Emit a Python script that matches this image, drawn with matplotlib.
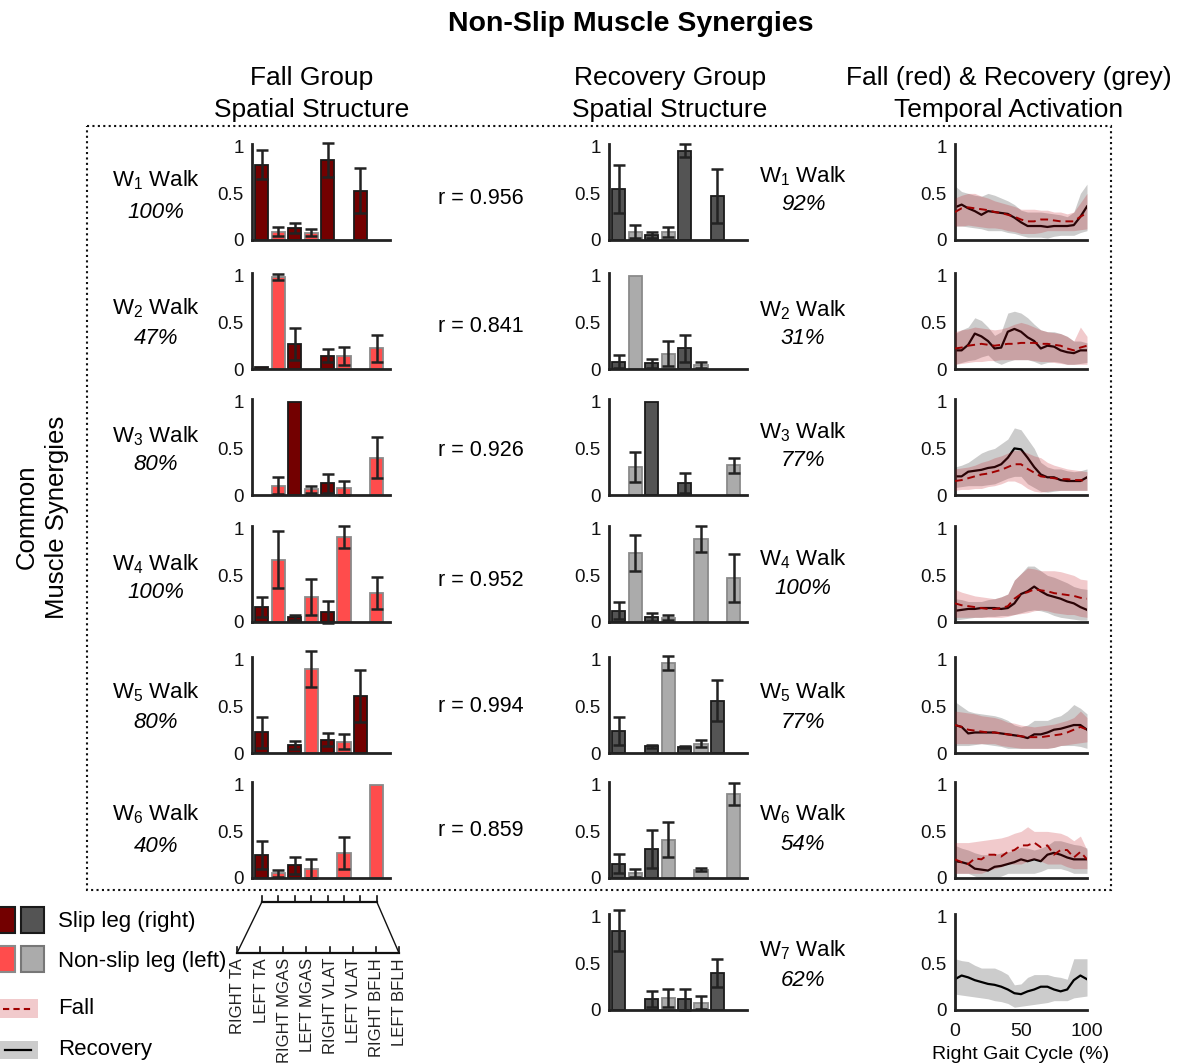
import matplotlib
matplotlib.use('Agg')
import matplotlib.pyplot as plt
import numpy as np
from matplotlib.patches import Rectangle
from matplotlib.lines import Line2D
from matplotlib import transforms

plt.rcParams['font.family'] = ['Liberation Sans', 'DejaVu Sans']
plt.rcParams['mathtext.fontset'] = 'custom'
plt.rcParams['mathtext.rm'] = 'Liberation Sans'
plt.rcParams['mathtext.it'] = 'Liberation Sans:italic'
plt.rcParams['mathtext.default'] = 'regular'

# ---------------- data ----------------
muscles = ['RIGHT TA', 'LEFT TA', 'RIGHT MGAS', 'LEFT MGAS',
           'RIGHT VLAT', 'LEFT VLAT', 'RIGHT BFLH', 'LEFT BFLH']

fall_vals = [
    [0.81, 0.09, 0.125, 0.08, 0.86, 0, 0.53, 0],
    [0.02, 0.99, 0.27, 0, 0.14, 0.14, 0, 0.22],
    [0, 0.10, 1.0, 0.06, 0.125, 0.08, 0, 0.40],
    [0.16, 0.67, 0.05, 0.27, 0.105, 0.91, 0, 0.31],
    [0.22, 0, 0.085, 0.90, 0.14, 0.12, 0.61, 0],
    [0.245, 0.05, 0.135, 0.10, 0, 0.27, 0, 1.0],
]
fall_err = [
    [0.16, 0.05, 0.055, 0.04, 0.18, 0, 0.245, 0],
    [0, 0.03, 0.175, 0, 0.07, 0.10, 0, 0.15],
    [0, 0.09, 0, 0.035, 0.105, 0.075, 0, 0.22],
    [0.11, 0.31, 0.025, 0.19, 0.115, 0.12, 0, 0.17],
    [0.17, 0, 0.04, 0.195, 0.07, 0.08, 0.28, 0],
    [0.15, 0.035, 0.095, 0.105, 0, 0.17, 0, 0],
]
rec_vals = [
    [0.55, 0.09, 0.055, 0.085, 0.96, 0, 0.47, 0],
    [0.08, 1.0, 0.06, 0.165, 0.22, 0.04, 0, 0],
    [0, 0.30, 1.0, 0, 0.13, 0, 0, 0.32],
    [0.12, 0.74, 0.055, 0.045, 0, 0.89, 0, 0.47],
    [0.24, 0, 0.07, 0.965, 0.065, 0.10, 0.56, 0],
    [0.155, 0.055, 0.31, 0.41, 0, 0.09, 0, 0.90],
    [0.85, 0, 0.115, 0.13, 0.115, 0.08, 0.40, 0],
]
rec_err = [
    [0.255, 0.07, 0.035, 0.05, 0.07, 0, 0.29, 0],
    [0.07, 0, 0.045, 0.135, 0.145, 0.03, 0, 0],
    [0, 0.16, 0, 0, 0.105, 0, 0, 0.08],
    [0.09, 0.195, 0.04, 0.025, 0, 0.14, 0, 0.255],
    [0.15, 0, 0.015, 0.075, 0.015, 0.035, 0.22, 0],
    [0.10, 0.04, 0.20, 0.19, 0, 0.015, 0, 0.12],
    [0.22, 0, 0.085, 0.10, 0.11, 0.065, 0.15, 0],
]

fall_pct = ['100%', '47%', '80%', '100%', '80%', '40%']
rec_pct = ['92%', '31%', '77%', '100%', '77%', '54%', '62%']
r_vals = [0.956, 0.841, 0.926, 0.952, 0.994, 0.859]

gait = [0, 5, 10, 15, 20, 25, 30, 35, 40, 45, 50, 55, 60, 65, 70, 75, 80, 85, 90, 95, 100]

rec_mean = [
    [0.35,0.38,0.34,0.31,0.27,0.31,0.30,0.29,0.28,0.24,0.19,0.15,0.15,0.15,0.14,0.15,0.15,0.15,0.16,0.25,0.36],
    [0.20,0.20,0.26,0.38,0.35,0.30,0.22,0.23,0.40,0.43,0.40,0.34,0.30,0.22,0.25,0.24,0.20,0.18,0.17,0.20,0.20],
    [0.20,0.20,0.25,0.26,0.27,0.29,0.30,0.33,0.40,0.50,0.49,0.40,0.30,0.22,0.19,0.19,0.16,0.15,0.15,0.15,0.19],
    [0.12,0.13,0.14,0.14,0.15,0.15,0.15,0.14,0.15,0.20,0.30,0.33,0.38,0.33,0.29,0.27,0.25,0.22,0.20,0.16,0.13],
    [0.30,0.28,0.21,0.22,0.22,0.22,0.22,0.21,0.20,0.19,0.18,0.16,0.20,0.20,0.22,0.25,0.26,0.28,0.30,0.30,0.25],
    [0.18,0.17,0.15,0.10,0.09,0.08,0.12,0.13,0.15,0.17,0.20,0.18,0.20,0.18,0.25,0.27,0.25,0.22,0.20,0.20,0.20],
    [0.33,0.37,0.35,0.32,0.30,0.28,0.27,0.25,0.22,0.18,0.17,0.20,0.22,0.25,0.25,0.22,0.20,0.22,0.32,0.37,0.33],
]
rec_up = [
    [0.58,0.52,0.50,0.48,0.47,0.50,0.48,0.45,0.42,0.38,0.32,0.30,0.30,0.30,0.29,0.28,0.27,0.25,0.30,0.50,0.60],
    [0.38,0.42,0.45,0.55,0.52,0.45,0.36,0.40,0.60,0.62,0.60,0.55,0.48,0.42,0.40,0.40,0.38,0.35,0.30,0.30,0.28],
    [0.30,0.32,0.35,0.40,0.45,0.48,0.50,0.55,0.60,0.72,0.70,0.60,0.50,0.35,0.30,0.28,0.28,0.26,0.25,0.26,0.28],
    [0.25,0.24,0.22,0.22,0.22,0.24,0.25,0.27,0.30,0.45,0.52,0.60,0.60,0.55,0.50,0.48,0.45,0.42,0.38,0.36,0.35],
    [0.55,0.50,0.45,0.43,0.42,0.41,0.40,0.38,0.35,0.30,0.28,0.30,0.35,0.35,0.35,0.38,0.40,0.45,0.52,0.48,0.42],
    [0.35,0.32,0.30,0.27,0.25,0.25,0.25,0.27,0.28,0.30,0.33,0.32,0.30,0.32,0.35,0.40,0.40,0.38,0.36,0.35,0.32],
    [0.55,0.53,0.52,0.48,0.45,0.45,0.45,0.42,0.38,0.27,0.28,0.35,0.38,0.38,0.38,0.36,0.35,0.33,0.55,0.55,0.55],
]
rec_lo = [
    [0.15,0.15,0.14,0.13,0.12,0.10,0.10,0.10,0.08,0.07,0.05,0.03,0.03,0.03,0.02,0.04,0.05,0.05,0.05,0.08,0.10],
    [0.05,0.07,0.09,0.10,0.13,0.15,0.08,0.05,0.08,0.10,0.10,0.10,0.08,0.05,0.07,0.08,0.07,0.05,0.05,0.06,0.07],
    [0.08,0.09,0.10,0.10,0.10,0.11,0.12,0.15,0.18,0.20,0.20,0.12,0.08,0.04,0.03,0.04,0.05,0.05,0.05,0.05,0.05],
    [0.02,0.03,0.04,0.05,0.05,0.06,0.06,0.07,0.07,0.08,0.10,0.12,0.13,0.12,0.10,0.07,0.05,0.04,0.03,0.02,0.02],
    [0.08,0.08,0.08,0.09,0.10,0.09,0.08,0.07,0.05,0.05,0.05,0.05,0.05,0.05,0.05,0.06,0.08,0.08,0.08,0.07,0.05],
    [0.05,0.05,0.05,0.02,0.00,0.00,0.00,0.02,0.05,0.05,0.05,0.05,0.05,0.07,0.10,0.10,0.10,0.08,0.05,0.05,0.05],
    [0.17,0.16,0.15,0.14,0.13,0.12,0.10,0.09,0.07,0.03,0.04,0.05,0.06,0.07,0.08,0.10,0.10,0.10,0.13,0.14,0.15],
]
fall_mean = [
    [0.30,0.34,0.35,0.34,0.33,0.32,0.30,0.29,0.27,0.25,0.22,0.20,0.20,0.22,0.22,0.21,0.20,0.20,0.20,0.25,0.29],
    [0.22,0.23,0.25,0.26,0.27,0.26,0.25,0.26,0.27,0.27,0.28,0.28,0.28,0.27,0.27,0.26,0.25,0.22,0.20,0.23,0.25],
    [0.15,0.16,0.18,0.20,0.22,0.23,0.25,0.27,0.30,0.33,0.33,0.28,0.24,0.20,0.19,0.18,0.17,0.17,0.16,0.16,0.14],
    [0.20,0.18,0.17,0.16,0.15,0.14,0.14,0.15,0.17,0.25,0.30,0.32,0.35,0.34,0.33,0.31,0.30,0.29,0.28,0.26,0.25],
    [0.30,0.28,0.25,0.24,0.23,0.22,0.22,0.21,0.20,0.19,0.18,0.17,0.17,0.17,0.18,0.19,0.20,0.22,0.25,0.28,0.25],
    [0.20,0.17,0.15,0.21,0.20,0.25,0.25,0.23,0.28,0.30,0.35,0.35,0.38,0.33,0.35,0.25,0.30,0.30,0.22,0.28,0.20],
]
fall_up = [
    [0.45,0.48,0.50,0.50,0.47,0.45,0.42,0.40,0.38,0.36,0.33,0.33,0.33,0.32,0.32,0.30,0.30,0.28,0.30,0.40,0.50],
    [0.40,0.42,0.43,0.45,0.44,0.43,0.42,0.43,0.45,0.48,0.50,0.48,0.45,0.42,0.40,0.39,0.38,0.35,0.30,0.45,0.35],
    [0.28,0.29,0.30,0.32,0.35,0.37,0.40,0.42,0.45,0.48,0.48,0.45,0.42,0.40,0.35,0.32,0.30,0.28,0.27,0.26,0.25],
    [0.35,0.32,0.30,0.28,0.27,0.26,0.25,0.27,0.30,0.45,0.52,0.58,0.57,0.55,0.55,0.55,0.54,0.52,0.50,0.46,0.45],
    [0.45,0.44,0.43,0.42,0.40,0.39,0.38,0.36,0.33,0.32,0.30,0.29,0.28,0.29,0.30,0.31,0.33,0.35,0.38,0.45,0.38],
    [0.38,0.38,0.38,0.39,0.40,0.41,0.42,0.43,0.45,0.48,0.50,0.55,0.50,0.50,0.50,0.49,0.48,0.45,0.40,0.45,0.30],
]
fall_lo = [
    [0.15,0.15,0.16,0.15,0.14,0.13,0.13,0.12,0.10,0.09,0.07,0.07,0.07,0.08,0.10,0.10,0.10,0.10,0.10,0.11,0.12],
    [0.05,0.06,0.07,0.08,0.08,0.09,0.09,0.10,0.10,0.10,0.10,0.10,0.09,0.08,0.08,0.07,0.06,0.05,0.05,0.05,0.05],
    [0.05,0.06,0.06,0.07,0.07,0.09,0.10,0.12,0.15,0.15,0.12,0.07,0.04,0.03,0.04,0.05,0.05,0.05,0.05,0.05,0.05],
    [0.05,0.05,0.05,0.05,0.05,0.05,0.05,0.05,0.06,0.08,0.09,0.10,0.12,0.13,0.12,0.10,0.09,0.08,0.08,0.06,0.05],
    [0.10,0.10,0.10,0.10,0.10,0.10,0.10,0.08,0.07,0.06,0.05,0.05,0.05,0.05,0.05,0.06,0.08,0.09,0.10,0.11,0.12],
    [0.05,0.05,0.05,0.05,0.05,0.08,0.10,0.12,0.15,0.15,0.15,0.18,0.20,0.18,0.15,0.15,0.15,0.12,0.10,0.10,0.10],
]

# ---------------- style ----------------
C_FALL_R, C_FALL_L = '#730000', '#FF4C4C'
C_REC_R, C_REC_L = '#545454', '#ABABAB'
E_DARK, E_LIGHT = '#1a1a1a', '#8a8a8a'
SPINE = '#222222'
GREY_BAND = dict(color='#000000', alpha=0.2, lw=0)
PINK_BAND = dict(color='#C0101A', alpha=0.22, lw=0)

W, H = 1181, 1064
fig = plt.figure(figsize=(W / 100, H / 100), dpi=100)
ov = fig.add_axes([0, 0, 1, 1])
ov.set_xlim(0, W)
ov.set_ylim(H, 0)
ov.axis('off')

row_bottom = [240, 369, 495, 622, 753, 878, 1010]
AX_H = 96
TICK_FS = 13.5
DY = 2  # small text offset


def make_ax(left, right, bottom):
    ax = fig.add_axes([left / W, 1 - bottom / H, (right - left) / W, AX_H / H])
    ax.set_ylim(0, 1.03)
    ax.set_yticks([0, 0.5, 1])
    ax.set_yticklabels(['0', '0.5', '1'])
    for s in ['top', 'right']:
        ax.spines[s].set_visible(False)
    for s in ['left', 'bottom']:
        ax.spines[s].set_linewidth(2)
        ax.spines[s].set_color(SPINE)
    ax.tick_params(length=0, labelsize=TICK_FS, pad=6, colors='#111111')
    ax.set_xticks([])
    ax.patch.set_alpha(0)
    return ax


def draw_bars(ax, vals, errs, cdark, clight):
    x = np.arange(1, len(muscles) + 1)
    ax.set_xlim(0.4, 8.8)
    for i in range(len(muscles)):
        if vals[i] <= 0:
            continue
        dark = (i % 2 == 0)
        ax.bar(x[i], vals[i], width=0.8, color=cdark if dark else clight,
               edgecolor=E_DARK if dark else E_LIGHT, linewidth=1.3, zorder=2)
        if errs[i] > 0:
            eb = ax.errorbar(x[i], vals[i], yerr=errs[i], fmt='none', ecolor='#222222',
                             elinewidth=1.8, capsize=4.5, capthick=1.8, zorder=3)
            for a in list(eb.lines[1]) + list(eb.lines[2]):
                a.set_clip_on(False)


def draw_temporal(ax, k, with_fall=True):
    ax.set_xlim(0, 100)
    ax.fill_between(gait, rec_lo[k], rec_up[k], **GREY_BAND, zorder=1)
    ax.plot(gait, rec_mean[k], color='#000000', lw=1.6, zorder=2)
    if with_fall:
        ax.fill_between(gait, fall_lo[k], fall_up[k], **PINK_BAND, zorder=3)
        ax.plot(gait, fall_mean[k], color='#A00000', lw=1.4, ls=(0, (4, 2.5)), zorder=4)


fall_axes = []
for k in range(6):
    b = row_bottom[k]
    axf = make_ax(252, 390, b)
    draw_bars(axf, fall_vals[k], fall_err[k], C_FALL_R, C_FALL_L)
    fall_axes.append(axf)
for k in range(7):
    b = row_bottom[k]
    axr = make_ax(609, 747, b)
    draw_bars(axr, rec_vals[k], rec_err[k], C_REC_R, C_REC_L)
for k in range(7):
    b = row_bottom[k]
    axt = make_ax(955, 1087, b)
    draw_temporal(axt, k, with_fall=(k < 6))
    if k == 6:
        axt.set_xticks([0, 50, 100])
        axt.set_xticklabels(['0', '50', '100'])
        axt.tick_params(axis='x', length=0, pad=9, labelsize=14)
        axt.set_xlabel('Right Gait Cycle (%)', fontsize=14, labelpad=5)

# ---------------- texts ----------------
ov.text(631, 22 + DY, 'Non-Slip Muscle Synergies', fontsize=20.5, fontweight='bold',
        ha='center', va='center')
for x, l1, l2 in [(312, 'Fall Group', 'Spatial Structure'),
                  (670, 'Recovery Group', 'Spatial Structure'),
                  (1009, 'Fall (red) & Recovery (grey)', 'Temporal Activation')]:
    ov.text(x, 76 + DY, l1, fontsize=19, ha='center', va='center')
    ov.text(x, 108 + DY, l2, fontsize=19, ha='center', va='center')
ov.text(27, 517, 'Common', fontsize=18.5, rotation=90, ha='center', va='center')
ov.text(57, 517, 'Muscle Synergies', fontsize=18.5, rotation=90, ha='center', va='center')

fall_lab_y = [178, 306, 434, 562, 690, 812]
fall_pct_y = [211, 337, 463, 591, 720, 844]
rec_lab_y = [174, 308, 430, 557, 690, 812, 948]
rec_pct_y = [203, 337, 459, 587, 720, 843, 978]
r_y = [196, 324, 448, 579, 704, 829]
for k in range(6):
    ov.text(156, fall_lab_y[k] + DY, 'W$_{%d}$ Walk' % (k + 1), fontsize=16, ha='center', va='center')
    ov.text(156, fall_pct_y[k] + DY, fall_pct[k], fontsize=16, style='italic', ha='center', va='center')
    ov.text(481, r_y[k] + DY, 'r = %.3f' % r_vals[k], fontsize=15.5, ha='center', va='center')
for k in range(7):
    ov.text(803, rec_lab_y[k] + DY, 'W$_{%d}$ Walk' % (k + 1), fontsize=16, ha='center', va='center')
    ov.text(803, rec_pct_y[k] + DY, rec_pct[k], fontsize=16, style='italic', ha='center', va='center')

# dotted frame
ov.add_patch(Rectangle((87, 126), 1111 - 87, 890 - 126, fill=False, ec='#111111',
                       lw=1.5, ls=(0, (1, 1.6))))

# ---------------- legend ----------------
ov.add_patch(Rectangle((-10, 907), 25, 26, fc=C_FALL_R, ec=E_DARK, lw=1.5))
ov.add_patch(Rectangle((21, 907), 23, 26, fc=C_REC_R, ec=E_DARK, lw=1.5))
ov.add_patch(Rectangle((-10, 946), 25, 26, fc=C_FALL_L, ec=E_LIGHT, lw=1.5))
ov.add_patch(Rectangle((21, 946), 23, 26, fc=C_REC_L, ec='#777777', lw=1.5))
ov.add_patch(Rectangle((0, 999), 38, 19, fc='#C0101A', alpha=0.22, lw=0))
ov.add_line(Line2D([3, 31], [1008.5, 1008.5], color='#A00000', lw=1.5, ls=(0, (3, 2))))
ov.add_patch(Rectangle((0, 1041), 38, 18, fc='#000000', alpha=0.2, lw=0))
ov.add_line(Line2D([5, 31], [1050, 1050], color='#000000', lw=1.6))
for y, t in [(919, 'Slip leg (right)'), (960, 'Non-slip leg (left)'),
             (1007, 'Fall'), (1048, 'Recovery')]:
    ov.text(58, y + DY, t, fontsize=16, ha='left', va='center')

# ---------------- muscle label diagram ----------------
blend = transforms.blended_transform_factory(fall_axes[-1].transData, ov.transData)
xs_top = np.arange(1, len(muscles) + 1)
fig_top = [blend.transform((xv, 0)) for xv in xs_top]
inv = ov.transData.inverted()
top_px = [inv.transform(p)[0] for p in fig_top]
ov.add_line(Line2D([top_px[0], top_px[-1]], [902, 902], color='#111111', lw=1.6))
for xp in top_px:
    ov.add_line(Line2D([xp, xp], [902, 896], color='#111111', lw=1.2))
low_px = np.linspace(237, 399, len(muscles))
ov.add_line(Line2D([low_px[0], low_px[-1]], [953, 953], color='#111111', lw=1.6))
for xp in low_px:
    ov.add_line(Line2D([xp, xp], [953, 947], color='#111111', lw=1.2))
ov.add_line(Line2D([top_px[0], low_px[0]], [902, 953], color='#111111', lw=1.0))
ov.add_line(Line2D([top_px[-1], low_px[-1]], [902, 953], color='#111111', lw=1.0))
for xp, m in zip(low_px, muscles):
    ov.text(xp + 1, 958, m, fontsize=12, rotation=90, ha='center', va='top', color='#222222')

fig.savefig('out.png', dpi=100)
